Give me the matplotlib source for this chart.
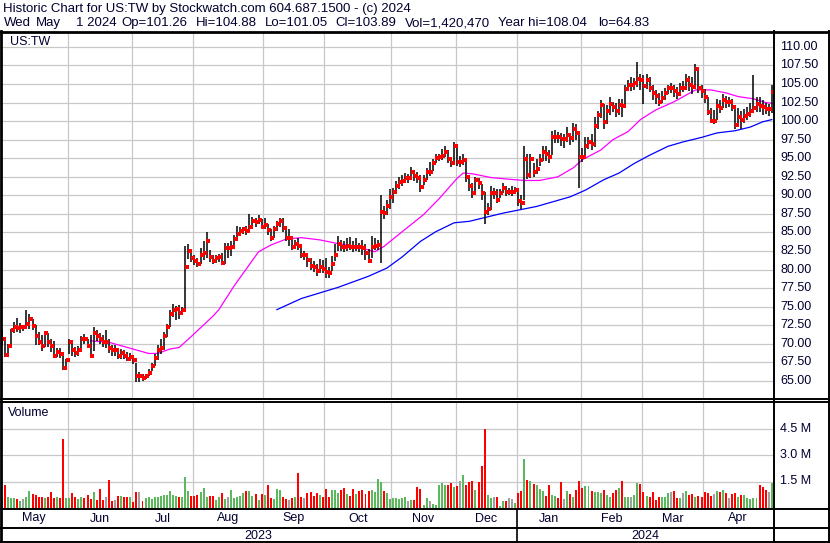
import numpy as np
import matplotlib.pyplot as plt
from matplotlib.lines import Line2D
from matplotlib.transforms import blended_transform_factory

plt.rcParams['font.family'] = ['Liberation Sans', 'DejaVu Sans']

# ---- data ----
months = ['May', 'Jun', 'Jul', 'Aug', 'Sep', 'Oct', 'Nov', 'Dec', 'Jan', 'Feb', 'Mar', 'Apr']
month_start = [0, 22, 43, 63, 86, 106, 128, 149, 169, 190, 210, 230]
years = ['2023', '2024']

close = [
    # May 2023
    70.6, 68.5, 69.7, 71.8, 72.3, 72.1, 72.3, 72.3, 72.7, 73.4, 72.4, 71.0, 70.3, 69.7, 71.4, 70.3, 69.7, 68.4, 68.9, 68.6, 66.8, 67.8,
    # Jun
    70.3, 69.1, 68.7, 69.1, 70.7, 70.6, 69.7, 68.4, 71.4, 71.1, 70.6, 70.3, 70.3, 69.4, 69.2, 69.2, 68.4, 68.8, 68.4, 68.0, 68.2,
    # Jul
    67.8, 65.7, 65.7, 65.4, 65.6, 66.1, 67.0, 68.1, 69.2, 69.4, 71.0, 72.2, 74.0, 74.6, 74.7, 74.1, 74.5, 80.3, 82.5, 81.6,
    # Aug
    81.2, 80.8, 82.0, 82.2, 83.8, 81.7, 81.2, 81.5, 81.7, 80.9, 82.9, 82.9, 83.1, 84.1, 84.8, 85.2, 85.5, 85.2, 85.7, 86.6, 86.4, 86.7, 85.8,
    # Sep
    86.0, 85.3, 84.3, 85.4, 86.1, 86.5, 85.6, 84.3, 84.3, 83.1, 83.5, 83.2, 81.9, 81.9, 81.3, 80.5, 80.3, 79.8, 80.4, 80.1,
    # Oct
    79.7, 79.6, 80.8, 81.9, 83.4, 83.1, 83.0, 83.2, 83.1, 83.0, 83.1, 83.0, 82.9, 82.2, 81.2, 83.1, 83.2, 83.3, 87.7, 87.6, 88.5, 89.8,
    # Nov
    90.4, 91.3, 91.8, 91.9, 92.3, 92.3, 93.1, 92.6, 92.4, 91.1, 92.1, 93.2, 93.2, 94.3, 95.0, 95.2, 95.3, 95.9, 94.9, 94.3, 96.7,
    # Dec
    94.5, 94.5, 94.8, 92.5, 91.3, 90.3, 92.0, 91.6, 90.3, 87.8, 88.1, 90.3, 90.3, 89.4, 90.3, 91.0, 90.5, 90.5, 90.5, 90.7,
    # Jan 2024
    89.2, 89.0, 94.9, 92.8, 94.9, 93.1, 93.6, 94.8, 95.8, 95.5, 95.1, 97.8, 97.9, 97.8, 97.6, 97.6, 98.1, 97.7, 98.9, 98.4, 95.2,
    # Feb
    95.1, 96.7, 97.2, 96.9, 99.3, 100.8, 102.2, 99.9, 101.3, 102.3, 101.9, 101.3, 102.2, 102.0, 104.3, 104.9, 104.9, 105.1, 105.7, 105.6,
    # Mar
    104.7, 105.5, 104.4, 103.8, 103.4, 102.6, 103.1, 103.8, 104.4, 104.4, 104.0, 103.6, 104.4, 104.4, 105.6, 104.9, 104.6, 107.0, 104.4, 104.0,
    # Apr
    103.3, 101.2, 100.0, 100.0, 102.0, 101.8, 102.9, 102.6, 102.6, 101.9, 99.5, 100.5, 100.1, 100.7, 100.9, 101.3, 101.7, 102.3, 102.0, 101.9, 101.6, 101.6,
    # May 1
    103.89,
]

high = [
    71.9, 70.5, 70.0, 72.0, 72.9, 73.5, 72.8, 72.6, 74.6, 74.0, 73.4, 72.6, 71.6, 71.2, 71.6, 71.4, 70.6, 70.4, 69.4, 69.4, 68.8, 68.0,
    70.7, 70.5, 69.6, 69.7, 71.0, 71.3, 70.7, 71.2, 72.2, 71.8, 71.5, 71.2, 71.8, 70.6, 69.9, 69.8, 69.5, 69.3, 69.2, 68.9, 68.8,
    68.5, 67.4, 66.2, 66.0, 65.9, 66.6, 67.4, 68.6, 69.8, 70.6, 71.6, 72.7, 74.5, 75.3, 75.1, 75.2, 75.0, 83.2, 83.5, 82.4,
    82.0, 81.6, 82.9, 83.9, 85.0, 82.7, 82.0, 82.0, 82.1, 82.2, 83.6, 83.6, 83.9, 84.7, 85.9, 85.8, 85.8, 85.9, 87.5, 87.1, 87.0, 87.3, 86.8,
    86.9, 86.2, 85.5, 85.9, 86.5, 87.0, 86.9, 85.6, 85.4, 84.5, 84.0, 84.2, 83.2, 82.5, 82.0, 81.6, 81.2, 80.7, 81.4, 81.3,
    81.6, 80.4, 81.8, 83.5, 84.5, 84.0, 83.9, 84.2, 84.4, 83.8, 84.3, 83.6, 84.0, 83.4, 82.8, 84.5, 84.2, 84.0, 90.0, 88.6, 89.4, 90.9,
    91.0, 91.9, 92.5, 92.8, 93.0, 92.9, 93.8, 93.4, 93.1, 92.7, 92.7, 93.7, 94.5, 94.9, 95.6, 95.6, 96.3, 96.7, 96.1, 95.2, 97.2,
    96.8, 95.3, 95.6, 94.9, 92.8, 91.7, 92.5, 92.3, 91.5, 90.4, 89.0, 91.2, 91.0, 90.8, 90.8, 91.6, 91.3, 91.0, 91.2, 91.1,
    90.6, 90.0, 96.6, 95.5, 95.6, 94.4, 94.9, 95.5, 96.6, 96.6, 96.1, 98.6, 98.8, 98.5, 98.4, 98.2, 99.2, 98.4, 99.8, 99.6, 98.1,
    96.4, 97.8, 97.9, 98.2, 100.5, 101.3, 102.8, 102.3, 102.2, 103.3, 102.6, 102.5, 103.0, 103.0, 104.9, 105.5, 105.9, 105.8, 108.0, 106.4,
    106.2, 106.4, 105.9, 104.9, 104.2, 103.8, 104.0, 104.5, 104.9, 105.1, 104.8, 104.6, 105.1, 105.4, 106.3, 106.1, 105.9, 107.7, 107.3, 104.9,
    104.3, 103.3, 101.7, 101.5, 103.0, 102.8, 103.6, 103.4, 103.3, 103.0, 102.0, 101.8, 101.3, 101.6, 101.9, 102.5, 106.2, 103.2, 103.3, 102.9, 102.5, 102.3,
    104.88,
]

low = [
    69.8, 68.2, 68.3, 69.8, 71.4, 71.6, 71.5, 71.7, 72.1, 72.0, 71.8, 69.9, 69.8, 69.0, 69.6, 69.6, 68.9, 68.3, 68.2, 68.1, 66.5, 67.0,
    68.6, 68.4, 68.2, 68.4, 69.0, 70.0, 69.4, 68.1, 69.0, 70.4, 70.0, 69.6, 69.4, 68.7, 68.3, 68.4, 68.0, 67.9, 67.9, 67.7, 67.7,
    67.3, 64.9, 64.8, 65.0, 65.2, 65.6, 66.4, 67.0, 67.8, 68.6, 69.2, 70.9, 72.3, 73.6, 73.2, 73.3, 73.9, 74.6, 81.4, 81.0,
    80.6, 80.3, 80.8, 81.3, 81.6, 81.0, 80.7, 80.9, 81.0, 80.6, 80.8, 81.6, 81.8, 82.8, 84.1, 84.5, 84.8, 84.7, 84.9, 85.9, 85.8, 86.2, 85.4,
    85.5, 84.6, 83.9, 84.2, 85.2, 85.8, 85.0, 83.8, 83.2, 82.6, 82.9, 82.6, 81.5, 81.3, 80.4, 79.9, 79.7, 79.2, 79.6, 79.5,
    78.9, 78.8, 79.8, 81.2, 82.5, 82.5, 82.4, 82.5, 82.6, 82.4, 82.5, 82.4, 82.0, 81.3, 80.9, 81.5, 82.6, 82.6, 80.9, 86.8, 87.3, 88.2,
    88.9, 90.2, 90.9, 91.2, 91.6, 91.7, 92.3, 91.9, 91.7, 90.4, 91.4, 92.0, 92.6, 93.3, 94.4, 94.6, 94.7, 95.1, 94.4, 93.8, 94.6,
    94.0, 93.8, 94.1, 91.8, 90.6, 89.6, 90.0, 90.8, 89.4, 86.2, 87.3, 88.0, 89.5, 88.9, 89.6, 90.3, 89.9, 90.0, 89.9, 90.2,
    88.5, 88.2, 89.4, 92.2, 92.4, 92.5, 92.9, 94.0, 94.6, 94.6, 94.4, 95.4, 97.0, 97.0, 96.6, 96.4, 97.2, 96.8, 97.2, 97.5, 91.0,
    94.5, 94.9, 96.3, 96.1, 96.5, 99.0, 100.4, 98.9, 99.6, 100.8, 101.2, 100.6, 100.8, 100.5, 101.8, 104.1, 104.0, 104.2, 104.6, 104.2,
    102.3, 104.3, 103.9, 102.9, 102.3, 102.0, 102.4, 102.8, 103.6, 103.8, 103.3, 103.0, 103.4, 103.9, 104.2, 104.1, 103.7, 104.3, 103.8, 103.1,
    102.4, 100.8, 99.7, 99.6, 100.2, 101.1, 101.8, 101.8, 101.9, 101.4, 99.0, 99.2, 99.0, 99.8, 100.2, 100.6, 101.1, 101.2, 101.2, 100.8, 100.9, 100.7,
    101.05,
]

# volume in millions
volume = [
    0.65, 1.3, 0.6, 0.55, 0.55, 0.5, 0.4, 0.5, 0.65, 0.95, 0.8, 0.75, 0.65, 0.6, 0.55, 0.65, 0.9, 0.55, 0.6, 0.55, 3.9, 0.55,
    0.55, 0.85, 0.65, 0.5, 0.65, 0.55, 0.75, 0.5, 0.9, 0.45, 1.05, 0.45, 0.6, 1.6, 0.4, 0.45, 0.7, 0.7, 0.65, 0.6, 0.65,
    0.35, 0.9, 0.9, 0.4, 0.55, 0.6, 0.5, 0.6, 0.65, 0.7, 0.75, 0.75, 0.95, 0.75, 0.7, 0.65, 0.65, 1.75, 0.95, 0.7,
    0.7, 0.75, 0.9, 1.15, 0.65, 0.7, 0.7, 0.45, 0.65, 0.85, 0.5, 0.6, 1.0, 0.55, 0.6, 0.7, 0.85, 0.95, 0.95, 0.7, 0.8, 0.45, 0.8,
    0.75, 1.3, 0.55, 0.5, 1.1, 1.0, 0.65, 0.5, 0.45, 0.55, 0.65, 1.98, 0.6, 0.55, 0.85, 0.9, 0.7, 0.85, 0.75, 0.6,
    1.05, 0.6, 1.0, 1.0, 0.85, 1.0, 1.15, 0.8, 0.7, 1.05, 0.8, 0.95, 1.0, 0.8, 0.95, 1.0, 0.9, 1.65, 1.45, 0.95, 0.85, 0.5,
    0.55, 0.55, 0.5, 0.55, 0.6, 0.4, 0.45, 0.45, 1.2, 1.1, 0.15, 0.55, 0.4, 0.2, 0.15, 1.3, 1.4, 1.3, 1.3, 1.4, 1.2,
    1.25, 1.55, 1.85, 1.3, 1.45, 1.55, 1.0, 1.45, 2.35, 4.45, 0.75, 0.55, 0.65, 0.65, 0.1, 0.4, 0.4, 0.55, 0.5, 0.3,
    0.85, 0.95, 2.75, 1.6, 1.55, 1.35, 1.3, 1.1, 0.95, 0.7, 1.3, 0.75, 0.7, 0.55, 1.5, 0.5, 0.95, 0.8, 0.6, 1.0, 1.55,
    1.15, 1.25, 1.25, 0.95, 0.9, 0.9, 0.85, 1.0, 0.75, 0.6, 0.85, 1.0, 1.15, 1.55, 0.6, 0.65, 0.65, 0.75, 1.4, 1.35,
    0.9, 0.7, 0.6, 0.9, 0.45, 0.6, 0.65, 0.6, 0.85, 0.9, 0.95, 0.55, 0.55, 0.85, 0.95, 0.75, 0.8, 0.6, 0.7, 0.65,
    0.9, 0.85, 0.7, 0.8, 0.95, 0.9, 1.0, 0.85, 0.55, 0.8, 0.85, 0.6, 0.75, 0.75, 0.55, 0.5, 0.55, 0.55, 1.3, 1.2, 1.0, 0.9,
    1.42,
]

# moving averages (bar index, value)
ma_fast_idx = [29, 35, 42, 48, 51, 55, 58, 62, 69, 71, 76, 84, 88, 93, 98, 104, 110, 116, 122, 125, 131, 138, 143,
               149, 151, 154, 160, 165, 171, 176, 182, 187, 190, 196, 200, 205, 209, 214, 220, 227, 232, 237, 241, 246, 250, 252]
ma_fast_val = [70.4, 70.2, 69.4, 68.7, 68.7, 69.3, 69.5, 71.0, 73.7, 74.6, 77.8, 82.4, 83.3, 84.1, 84.3, 84.0, 83.5, 83.1, 82.4, 83.1, 85.1, 87.4, 89.5,
               92.3, 93.0, 92.9, 92.4, 92.2, 92.0, 92.0, 92.5, 93.7, 94.8, 96.1, 97.5, 98.6, 100.2, 101.5, 102.6, 104.2, 104.2, 103.8, 103.3, 103.0, 102.5, 102.4]
ma_slow_idx = [90, 98, 110, 120, 126, 131, 137, 142, 148, 153, 164, 175, 186, 191, 197, 202, 207, 212, 218, 223, 229, 234, 240, 245, 249, 252]
ma_slow_val = [74.6, 76.1, 77.6, 79.1, 80.2, 81.7, 83.8, 85.1, 86.3, 86.5, 87.6, 88.5, 89.8, 90.7, 92.1, 93.0, 94.3, 95.4, 96.6, 97.2, 97.8, 98.4, 98.7, 99.2, 99.9, 100.2]

price_ticks = [65.0 + 2.5 * k for k in range(19)]
vol_ticks = [1.5, 3.0, 4.5]
vol_tick_labels = ['1.5 M', '3.0 M', '4.5 M']

header1 = 'Historic Chart for US:TW by Stockwatch.com 604.687.1500 - (c) 2024'
header2_parts = ['Wed', 'May', '1 2024', 'Op=101.26', 'Hi=104.88', 'Lo=101.05', 'Cl=103.89',
                 'Vol=1,420,470', 'Year hi=108.04', 'lo=64.83']
header2_px = [4, 36, 76, 121, 196, 265, 335, 405, 498, 598]

# ---- figure ----
W, H = 830, 543
PR = 773  # right edge of plot area in px
N = len(close)
x = np.arange(N)
XL = (-0.65, N - 0.6)
txtc = '#000030'
gridc = '#c8c8c8'


def fx(px):
    return px / W


def fy(py):
    return 1 - py / H


fig = plt.figure(figsize=(W / 100, H / 100), dpi=100)
fig.patch.set_facecolor('white')

ax = fig.add_axes([0, fy(398), fx(PR), (398 - 32) / H])
axv = fig.add_axes([0, fy(508), fx(PR), (508 - 402) / H])
axl = fig.add_axes([0, 0, fx(PR), (543 - 508) / H])

for a in (ax, axv, axl):
    a.set_xlim(*XL)
    a.set_xticks([])
    a.set_yticks([])
    for s in a.spines.values():
        s.set_visible(False)

# price panel
ax.set_ylim(62.7, 112.0)
for p in price_ticks:
    ax.axhline(p, color=gridc, lw=0.9, zorder=0)
for m in month_start[1:]:
    ax.axvline(m - 0.5, color=gridc, lw=0.9, zorder=0)
    axv.axvline(m - 0.5, color=gridc, lw=0.9, zorder=0)

ax.plot(ma_fast_idx, ma_fast_val, color='#ff00ff', lw=0.9, zorder=2)
ax.plot(ma_slow_idx, ma_slow_val, color='#0000ff', lw=0.9, zorder=2)
ax.vlines(x, low, high, color='black', lw=1.1, zorder=3)
ax.plot(x + 0.5, close, 's', color='#ff0000', ms=2.5, mew=0, ls='none', zorder=4)

tr = blended_transform_factory(fig.transFigure, ax.transData)
for p in price_ticks:
    fig.text(fx(780), p, f'{p:.2f}', transform=tr, fontsize=9, color=txtc, va='center')

# volume panel
axv.set_ylim(0, 6.0)
for v in vol_ticks:
    axv.axhline(v, color=gridc, lw=0.9, zorder=0)
cols = ['#a0a0a0']
for i in range(1, N):
    if close[i] > close[i - 1]:
        cols.append('#5cb85c')
    elif close[i] < close[i - 1]:
        cols.append('#ff0000')
    else:
        cols.append('#a0a0a0')
axv.bar(x, volume, width=0.65, color=cols, zorder=2)
trv = blended_transform_factory(fig.transFigure, axv.transData)
for v, lab in zip(vol_ticks, vol_tick_labels):
    fig.text(fx(780), v, lab, transform=trv, fontsize=9, color=txtc, va='center')

# month / year labels
axl.set_ylim(35, 0)
bounds = month_start + [N]
for k, m in enumerate(months):
    axl.text((bounds[k] + bounds[k + 1]) / 2 - 0.5, 10.5, m, ha='center', va='center', fontsize=9, color=txtc)
jan = month_start[8] - 0.5
axl.text((XL[0] + jan) / 2, 28, years[0], ha='center', va='center', fontsize=9, color=txtc)
axl.text((jan + XL[1]) / 2, 28, years[1], ha='center', va='center', fontsize=9, color=txtc)
axl.plot([jan, jan], [0, 35], color='black', lw=1.2)

# header and panel labels
fig.text(fx(3), fy(9), header1, fontsize=9.5, color=txtc, va='center')
for part, px in zip(header2_parts, header2_px):
    fig.text(fx(px), fy(23), part, fontsize=9.5, color=txtc, va='center')
fig.text(fx(10), fy(42), 'US:TW', fontsize=9, color=txtc, va='center')
fig.text(fx(8), fy(413), 'Volume', fontsize=9, color=txtc, va='center')


def hline(py, x0=0, x1=W, lw=1.4):
    fig.add_artist(Line2D([fx(x0), fx(x1)], [fy(py), fy(py)], color='black', lw=lw, transform=fig.transFigure))


def vline(px, y0, y1, lw=1.4):
    fig.add_artist(Line2D([fx(px), fx(px)], [fy(y0), fy(y1)], color='black', lw=lw, transform=fig.transFigure))


hline(31.5, lw=2.0)
hline(398.5)
hline(401.5)
hline(509)
hline(527.5)
hline(542)
vline(1, 31, 543, lw=2.0)
vline(PR + 0.5, 31, 543)
vline(828.5, 31, 543)

fig.savefig('out.png', dpi=100)
